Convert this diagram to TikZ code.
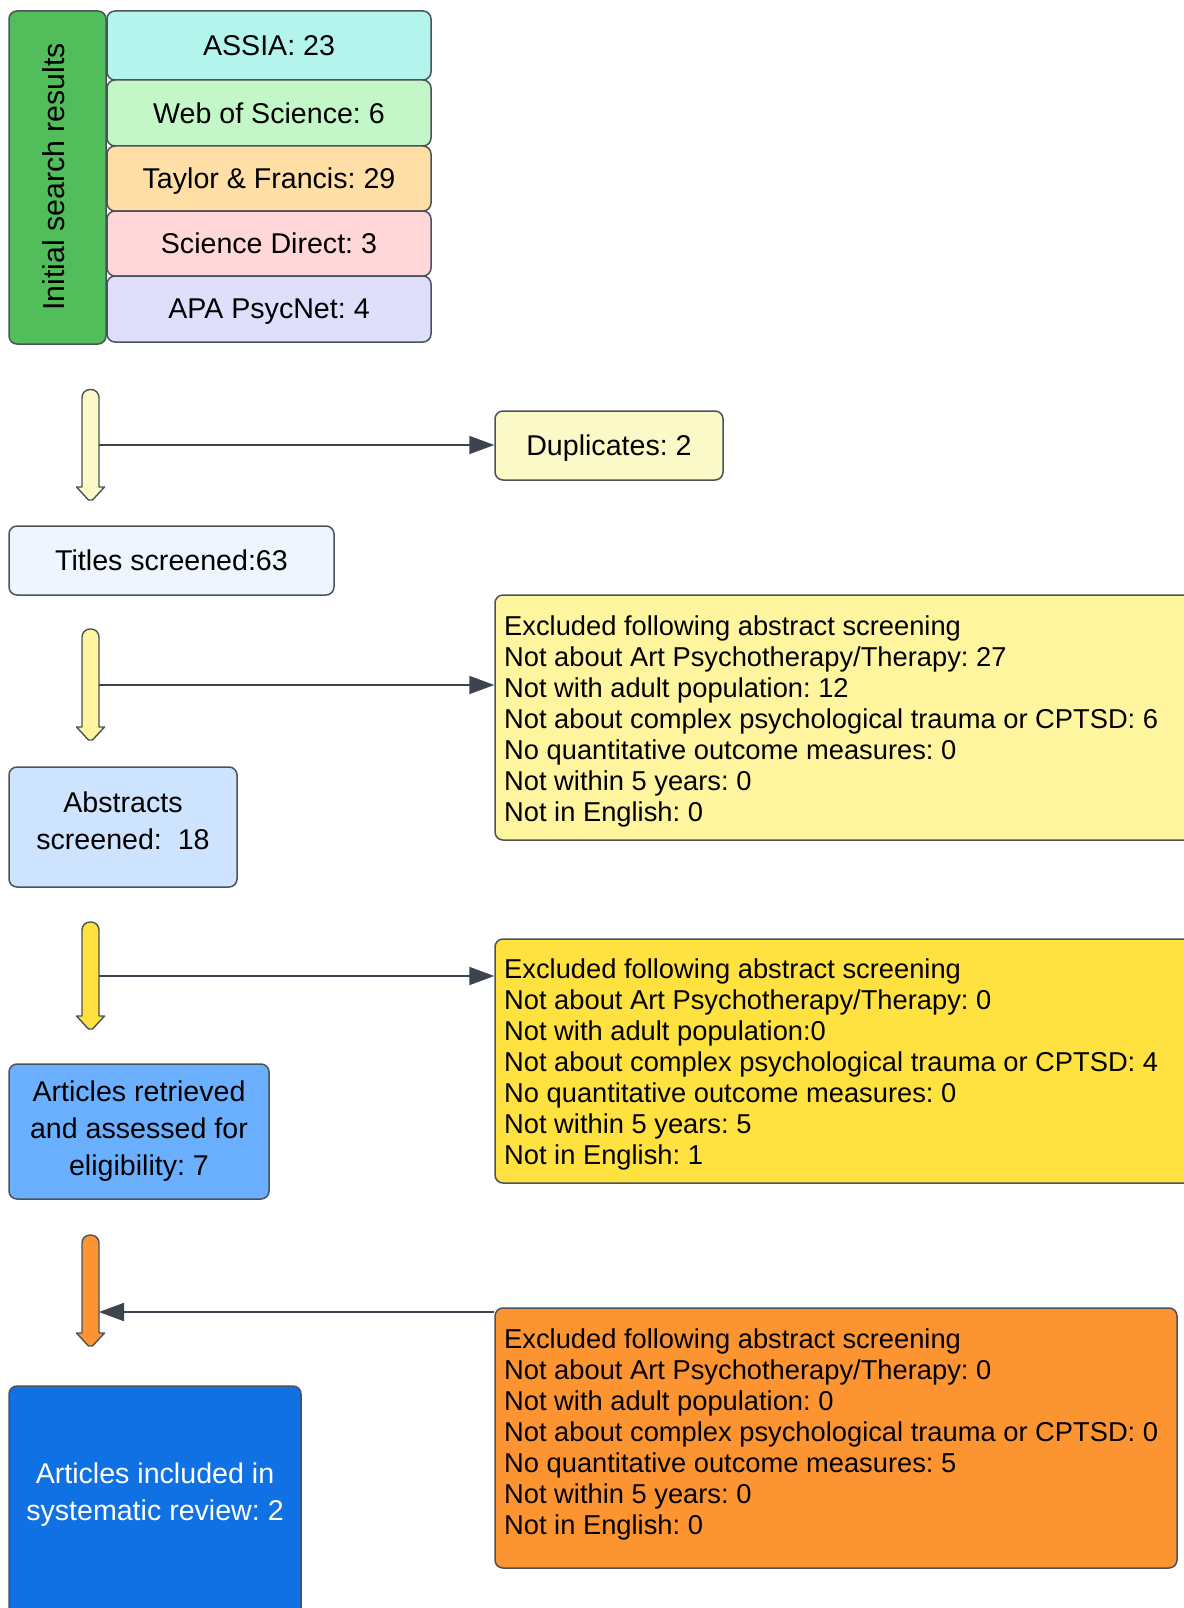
\documentclass[tikz,border=0pt]{standalone}
\usepackage{fontspec}
\setmainfont{Liberation Sans}
\usetikzlibrary{arrows.meta}
\frenchspacing
\definecolor{bordergray}{HTML}{4A525C}
\definecolor{linegray}{HTML}{3D4450}
\definecolor{cgreen}{HTML}{52BE5B}
\definecolor{cassia}{HTML}{B3F5EC}
\definecolor{cweb}{HTML}{C3F7C8}
\definecolor{ctaylor}{HTML}{FFDFA6}
\definecolor{csci}{HTML}{FFD7D9}
\definecolor{capa}{HTML}{DFDFFC}
\definecolor{cdup}{HTML}{FCF9C8}
\definecolor{ctitles}{HTML}{EEF5FE}
\definecolor{cabs}{HTML}{CEE3FD}
\definecolor{cret}{HTML}{6BB0FF}
\definecolor{cinc}{HTML}{1071E5}
\definecolor{cexa}{HTML}{FFF59F}
\definecolor{cexb}{HTML}{FFE13F}
\definecolor{cexc}{HTML}{FD9432}
\newcommand\blockarrowdraw[4]{%
  \draw[draw=bordergray, line width=1.4pt, fill=#4, line join=round]
    (#1-8.5,#3-13) [rounded corners=8pt] -- (#1-8.5,#2) -- (#1+8.5,#2) [sharp corners] -- (#1+8.5,#3-13)
    -- (#1+14,#3-13) -- (#1+2,#3) -- (#1-2,#3) -- (#1-14,#3-13) -- cycle;}
\begin{document}
\begin{tikzpicture}[x=1pt,y=-1pt,
  box/.style={draw=bordergray, line width=1.5pt, rounded corners=8pt, inner sep=0pt,
    font=\fontsize{28.6}{37}\selectfont, align=center, text depth=0pt},
  exbox/.style={draw=bordergray, line width=1.5pt, rounded corners=8pt, inner sep=0pt},
  extext/.style={anchor=west, inner sep=0pt, font=\fontsize{27.3}{31}\selectfont, align=left},
  conn/.style={draw=linegray, line width=2pt, -{Triangle[length=25pt,width=18pt]}}]
\useasboundingbox (0,0) rectangle (1183,1608);

% initial search block
\node[box, fill=cgreen, minimum width=97pt, minimum height=333pt] (init) at (57.5,177.5) {};
\node[rotate=90, inner sep=0pt, font=\fontsize{30.3}{37}\selectfont] (initlabel) at (54,177) {Initial search results};
\node[box, fill=cassia, minimum width=324pt, minimum height=69pt] (assia) at (269,45.5) {ASSIA: 23};
\node[box, fill=cweb, minimum width=324pt, minimum height=66pt] (wos) at (269,113) {Web of Science: 6};
\node[box, fill=ctaylor, minimum width=324pt, minimum height=65pt] (tf) at (269,178.5) {Taylor \& Francis: 29};
\node[box, fill=csci, minimum width=324pt, minimum height=65pt] (sd) at (269,243.5) {Science Direct: 3};
\node[box, fill=capa, minimum width=324pt, minimum height=66pt] (apa) at (269,309) {APA PsycNet: 4};

% flow boxes
\node[box, fill=cdup, minimum width=228pt, minimum height=69pt] (dup) at (609,445.5) {Duplicates: 2};
\node[box, fill=ctitles, minimum width=325pt, minimum height=69pt] (titles) at (171.5,560.5) {Titles screened:63};
\node[box, fill=cabs, minimum width=228pt, minimum height=120pt] (abs) at (123,827) {};
\node[inner sep=0pt, font=\fontsize{28.6}{37}\selectfont, align=center] (abslabel) at (123,821) {Abstracts\\screened:\ \ 18};
\node[box, fill=cret, minimum width=260pt, minimum height=135pt, text depth=6pt] (ret) at (139,1131.5) {Articles retrieved\\and assessed for\\eligibility: 7};
\node[box, fill=cinc, minimum width=292pt, minimum height=234pt] (inc) at (155,1503) {};
\node[inner sep=0pt, font=\fontsize{28.6}{37}\selectfont, text=white, align=center] (inclabel) at (155,1495) {Articles included in\\systematic review: 2};

% exclusion boxes
\node[exbox, fill=cexa, minimum width=700pt, minimum height=245pt] (exa) at (845,717.5) {};
\node[extext] (exatext) at (504,721.5) {Excluded following abstract screening\\Not about Art Psychotherapy/Therapy: 27\\Not with adult population: 12\\Not about complex psychological trauma or CPTSD: 6\\No quantitative outcome measures: 0\\Not within 5 years: 0\\Not in English: 0};
\node[exbox, fill=cexb, minimum width=700pt, minimum height=244pt] (exb) at (845,1061) {};
\node[extext] (exbtext) at (504,1064.6) {Excluded following abstract screening\\Not about Art Psychotherapy/Therapy: 0\\Not with adult population:0\\Not about complex psychological trauma or CPTSD: 4\\No quantitative outcome measures: 0\\Not within 5 years: 5\\Not in English: 1};
\node[exbox, fill=cexc, minimum width=682pt, minimum height=260pt] (exc) at (836,1438) {};
\node[extext] (exctext) at (504,1434) {Excluded following abstract screening\\Not about Art Psychotherapy/Therapy: 0\\Not with adult population: 0\\Not about complex psychological trauma or CPTSD: 0\\No quantitative outcome measures: 5\\Not within 5 years: 0\\Not in English: 0};

% block arrows
\blockarrowdraw{90.5}{389.5}{500}{cdup}
\blockarrowdraw{90.5}{629}{740}{cexa}
\blockarrowdraw{90.5}{922}{1029}{cexb}
\blockarrowdraw{90.5}{1235}{1346}{cexc}

\coordinate (a1) at (99,445);
\coordinate (a2) at (99,685);
\coordinate (a3) at (99,976);
\coordinate (a4) at (99,1312);

\draw[conn] (a1) -- (a1 -| dup.west);
\draw[conn] (a2) -- (a2 -| exa.west);
\draw[conn] (a3) -- (a3 -| exb.west);
\draw[conn] (a4 -| exc.west) -- (a4);
\end{tikzpicture}
\end{document}
